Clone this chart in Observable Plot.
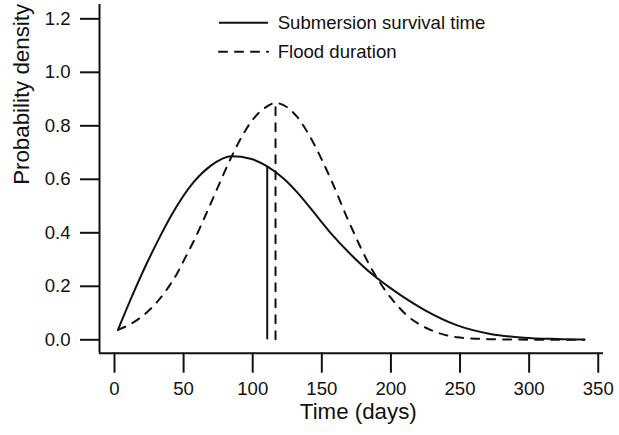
<!DOCTYPE html>
<html><head><meta charset="utf-8">
<script src="https://cdn.jsdelivr.net/npm/d3@7"></script>
<script src="https://cdn.jsdelivr.net/npm/@observablehq/plot@0.6"></script>
<style>
html,body{margin:0;padding:0;background:#fff;}
#chart{position:relative;width:619px;height:435px;}
#chart svg{display:block;}
#legend{position:absolute;left:0;top:0;pointer-events:none;}
</style></head><body><div id="chart"></div>
<script>
// ---- data ----
const solidDays    = [2.5, 11.6, 21.2, 30.9, 41.7, 57.4, 69.5, 85, 98.4, 110.5, 122.5, 134.6, 141.8, 156.3, 170.8, 187.6, 199.7, 207, 223.8, 248, 272, 296, 320, 340];
const solidDensity = [0.037, 0.150, 0.262, 0.365, 0.470, 0.590, 0.650, 0.686, 0.677, 0.648, 0.602, 0.537, 0.492, 0.400, 0.320, 0.240, 0.193, 0.167, 0.113, 0.054, 0.022, 0.008, 0.003, 0.001];
const dashedDays    = [2.5, 14, 23.7, 32.1, 39.3, 45.4, 51.4, 57.4, 62.2, 67.1, 74.3, 85.2, 93.6, 100.8, 108, 116.5, 125, 132.2, 143, 150.3, 157.5, 168.4, 173.2, 178, 184, 190.1, 196.1, 203.3, 211.8, 223.8, 235.9, 248, 270, 300, 340];
const dashedDensity = [0.037, 0.066, 0.104, 0.149, 0.199, 0.249, 0.309, 0.370, 0.423, 0.480, 0.565, 0.690, 0.773, 0.828, 0.864, 0.885, 0.869, 0.833, 0.745, 0.670, 0.589, 0.455, 0.400, 0.346, 0.284, 0.230, 0.183, 0.136, 0.090, 0.049, 0.023, 0.0095, 0.0025, 0.0005, 0.0];
const seriesNames = ["Submersion survival time", "Flood duration"];
const markerDays = [110.5, 116.5];
const markerTops = [0.648, 0.885];
const xTicks = [0, 50, 100, 150, 200, 250, 300, 350];
const yTicks = [0, 0.2, 0.4, 0.6, 0.8, 1.0, 1.2];
const yTickLabels = ["0.0", "0.2", "0.4", "0.6", "0.8", "1.0", "1.2"];
const xTitle = "Time (days)";
const yTitle = "Probability density";
const xLimits = [-10.85, 353.8];
const yLimits = [-0.0501, 1.2535];

// ---- build tables ----
const solid = solidDays.map((d, i) => ({day: d, density: solidDensity[i]}));
const dashed = dashedDays.map((d, i) => ({day: d, density: dashedDensity[i]}));
const markers = markerDays.map((d, i) => ({day: d, top: markerTops[i], series: i}));

const FONT = "'Liberation Sans', Arial, Helvetica, sans-serif";
const INK = "#111";
const DASH = "8,8";

const plot = Plot.plot({
  width: 619, height: 435,
  marginLeft: 99, marginRight: 16, marginTop: 4, marginBottom: 82.3,
  x: {domain: xLimits},
  y: {domain: yLimits},
  style: {fontFamily: FONT, fontSize: "18.6px", color: INK, background: "#fff"},
  marks: [
    Plot.ruleX([xLimits[0]], {strokeWidth: 2, stroke: INK}),
    Plot.ruleY([yLimits[0]], {strokeWidth: 2, stroke: INK}),
    Plot.axisX(xTicks, {tickSize: 20, tickPadding: 9, strokeWidth: 2, fontSize: 18.6, label: null, tickFormat: d => String(d)}),
    Plot.axisY(yTicks, {tickSize: 19, tickPadding: 10, strokeWidth: 2, fontSize: 18.6, label: null, tickFormat: d => yTickLabels[yTicks.indexOf(d)]}),
    Plot.line(solid, {x: "day", y: "density", curve: "monotone-x", stroke: INK, strokeWidth: 2}),
    Plot.line(dashed, {x: "day", y: "density", curve: "monotone-x", stroke: INK, strokeWidth: 2, strokeDasharray: DASH, strokeLinecap: "round"}),
    Plot.ruleX(markers.filter(m => m.series === 0), {x: "day", y1: 0, y2: "top", stroke: INK, strokeWidth: 2}),
    Plot.ruleX(markers.filter(m => m.series === 1), {x: "day", y1: 0, y2: "top", stroke: INK, strokeWidth: 2, strokeDasharray: DASH, strokeLinecap: "round"}),
    Plot.text([xTitle], {frameAnchor: "bottom", dx: 6.8, dy: 66.2, fontSize: 22.3, fill: INK}),
    Plot.text([yTitle], {frameAnchor: "left", rotate: -90, dx: -78.1, dy: 6, fontSize: 22.3, fill: INK})
  ]
});
const chart = document.getElementById("chart");
chart.appendChild(plot);

// ---- legend overlay ----
const leg = d3.select(chart).append("svg").attr("id", "legend")
  .attr("width", 619).attr("height", 80);
const legRows = seriesNames.map((name, i) => ({name, dashed: i === 1, row: i}));
const g = leg.selectAll("g").data(legRows).join("g")
  .attr("transform", d => `translate(0,${22.7 + 29 * d.row})`);
g.append("line").attr("x1", 219).attr("x2", 268).attr("y1", 0).attr("y2", 0)
  .attr("stroke", INK).attr("stroke-width", 2)
  .attr("stroke-dasharray", d => d.dashed ? DASH : null)
  .attr("stroke-linecap", d => d.dashed ? "round" : "butt");
g.append("text").attr("x", 277.7).attr("y", 0).attr("dy", "0.358em")
  .attr("font-family", FONT).attr("font-size", 18.6).attr("fill", INK)
  .text(d => d.name);
</script>
</body></html>
